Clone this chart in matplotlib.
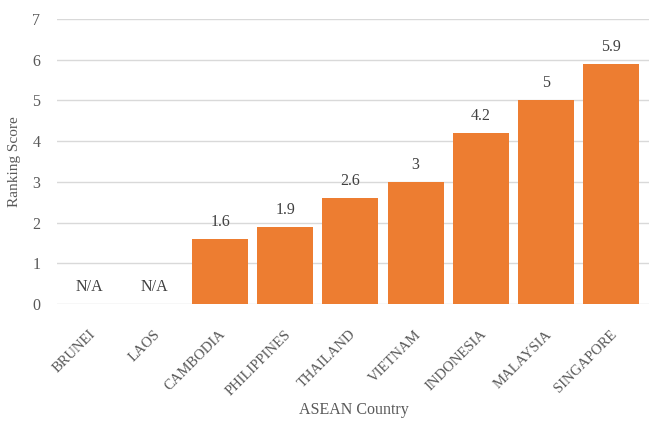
import matplotlib.pyplot as plt
import matplotlib.transforms as mtransforms
import numpy as np

countries = ['BRUNEI', 'LAOS', 'CAMBODIA', 'PHILIPPINES', 'THAILAND',
             'VIETNAM', 'INDONESIA', 'MALAYSIA', 'SINGAPORE']
scores = [np.nan, np.nan, 1.6, 1.9, 2.6, 3, 4.2, 5, 5.9]
labels = ['N/A', 'N/A', '1.6', '1.9', '2.6', '3', '4.2', '5', '5.9']

plt.rcParams['font.family'] = ['Liberation Serif', 'DejaVu Serif']
grey = '#595959'

fig = plt.figure(figsize=(6.49, 4.29), dpi=100)
ax = fig.add_axes([0.088, 0.291, 0.912, 0.665])

x = np.arange(len(countries))
vals = np.nan_to_num(scores)
ax.bar(x, vals, width=0.86, color='#ED7D31', zorder=3)

for xi, v, lab in zip(x, vals, labels):
    ax.text(xi, v + 0.22, lab, ha='center', va='bottom', fontsize=11.5, color='#404040')

ax.set_xlim(-0.5, len(countries) - 0.42)
ax.set_ylim(0, 7)
ax.set_yticks(range(0, 8))
ax.grid(axis='y', color='#d9d9d9', linewidth=1, zorder=0)
for s in ax.spines.values():
    s.set_visible(False)
ax.tick_params(length=0, colors=grey, labelsize=11.5)
ax.tick_params(axis='y', pad=12)
ax.set_xticks(x)
ax.set_xticklabels(countries, rotation=45, ha='right', rotation_mode='anchor',
                   fontsize=10.5)
ax.tick_params(axis='x', pad=17)
shift = mtransforms.ScaledTranslation(-1 / 100, 0, fig.dpi_scale_trans)
for t in ax.get_xticklabels():
    t.set_transform(t.get_transform() + shift)

ax.set_ylabel('Ranking Score', color=grey, fontsize=11, labelpad=8)
fig.text(0.545, 0.044, 'ASEAN Country', color=grey, fontsize=11.5,
         ha='center', va='center')

fig.savefig('out.png', dpi=100)
